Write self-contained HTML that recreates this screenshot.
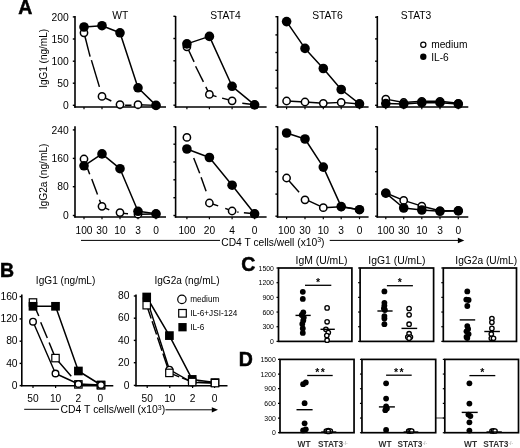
<!DOCTYPE html>
<html><head><meta charset="utf-8"><style>
html,body{margin:0;padding:0;background:#fff;}
svg{display:block;}
text{font-family:"Liberation Sans",sans-serif;}
svg{filter:grayscale(1);}
</style></head><body>
<svg width="520" height="448" viewBox="0 0 520 448" font-family="Liberation Sans, sans-serif">
<rect width="520" height="448" fill="#fff"/>
<text x="18.30" y="14.40" font-size="19.5" text-anchor="start" font-weight="bold" stroke="#000" stroke-width="0.5">A</text>
<line x1="75.00" y1="16.00" x2="75.00" y2="107.70" stroke="#000" stroke-width="1.6" />
<line x1="74.20" y1="107.10" x2="166.00" y2="107.10" stroke="#000" stroke-width="1.5" />
<line x1="72.80" y1="16.90" x2="75.00" y2="16.90" stroke="#000" stroke-width="1.4" />
<line x1="72.80" y1="39.00" x2="75.00" y2="39.00" stroke="#000" stroke-width="1.4" />
<line x1="72.80" y1="61.20" x2="75.00" y2="61.20" stroke="#000" stroke-width="1.4" />
<line x1="72.80" y1="83.20" x2="75.00" y2="83.20" stroke="#000" stroke-width="1.4" />
<line x1="72.80" y1="105.30" x2="75.00" y2="105.30" stroke="#000" stroke-width="1.4" />
<line x1="84.00" y1="107.10" x2="84.00" y2="109.30" stroke="#000" stroke-width="1.2" />
<line x1="102.00" y1="107.10" x2="102.00" y2="109.30" stroke="#000" stroke-width="1.2" />
<line x1="120.00" y1="107.10" x2="120.00" y2="109.30" stroke="#000" stroke-width="1.2" />
<line x1="138.00" y1="107.10" x2="138.00" y2="109.30" stroke="#000" stroke-width="1.2" />
<line x1="156.00" y1="107.10" x2="156.00" y2="109.30" stroke="#000" stroke-width="1.2" />
<line x1="175.60" y1="16.00" x2="175.60" y2="107.70" stroke="#000" stroke-width="1.6" />
<line x1="174.80" y1="107.10" x2="266.60" y2="107.10" stroke="#000" stroke-width="1.5" />
<line x1="173.40" y1="16.30" x2="175.60" y2="16.30" stroke="#000" stroke-width="1.4" />
<line x1="173.40" y1="38.50" x2="175.60" y2="38.50" stroke="#000" stroke-width="1.4" />
<line x1="173.40" y1="60.80" x2="175.60" y2="60.80" stroke="#000" stroke-width="1.4" />
<line x1="173.40" y1="83.00" x2="175.60" y2="83.00" stroke="#000" stroke-width="1.4" />
<line x1="173.40" y1="105.20" x2="175.60" y2="105.20" stroke="#000" stroke-width="1.4" />
<line x1="186.90" y1="107.10" x2="186.90" y2="109.30" stroke="#000" stroke-width="1.2" />
<line x1="209.40" y1="107.10" x2="209.40" y2="109.30" stroke="#000" stroke-width="1.2" />
<line x1="232.10" y1="107.10" x2="232.10" y2="109.30" stroke="#000" stroke-width="1.2" />
<line x1="254.60" y1="107.10" x2="254.60" y2="109.30" stroke="#000" stroke-width="1.2" />
<line x1="277.60" y1="16.00" x2="277.60" y2="107.70" stroke="#000" stroke-width="1.6" />
<line x1="276.80" y1="107.10" x2="368.60" y2="107.10" stroke="#000" stroke-width="1.5" />
<line x1="275.40" y1="16.70" x2="277.60" y2="16.70" stroke="#000" stroke-width="1.4" />
<line x1="275.40" y1="34.90" x2="277.60" y2="34.90" stroke="#000" stroke-width="1.4" />
<line x1="275.40" y1="52.50" x2="277.60" y2="52.50" stroke="#000" stroke-width="1.4" />
<line x1="275.40" y1="70.30" x2="277.60" y2="70.30" stroke="#000" stroke-width="1.4" />
<line x1="275.40" y1="88.10" x2="277.60" y2="88.10" stroke="#000" stroke-width="1.4" />
<line x1="275.40" y1="105.50" x2="277.60" y2="105.50" stroke="#000" stroke-width="1.4" />
<line x1="286.60" y1="107.10" x2="286.60" y2="109.30" stroke="#000" stroke-width="1.2" />
<line x1="305.00" y1="107.10" x2="305.00" y2="109.30" stroke="#000" stroke-width="1.2" />
<line x1="323.30" y1="107.10" x2="323.30" y2="109.30" stroke="#000" stroke-width="1.2" />
<line x1="341.20" y1="107.10" x2="341.20" y2="109.30" stroke="#000" stroke-width="1.2" />
<line x1="359.50" y1="107.10" x2="359.50" y2="109.30" stroke="#000" stroke-width="1.2" />
<line x1="377.30" y1="16.00" x2="377.30" y2="107.70" stroke="#000" stroke-width="1.6" />
<line x1="376.50" y1="107.10" x2="468.30" y2="107.10" stroke="#000" stroke-width="1.5" />
<line x1="375.10" y1="17.20" x2="377.30" y2="17.20" stroke="#000" stroke-width="1.4" />
<line x1="375.10" y1="38.90" x2="377.30" y2="38.90" stroke="#000" stroke-width="1.4" />
<line x1="375.10" y1="61.20" x2="377.30" y2="61.20" stroke="#000" stroke-width="1.4" />
<line x1="375.10" y1="83.40" x2="377.30" y2="83.40" stroke="#000" stroke-width="1.4" />
<line x1="375.10" y1="105.30" x2="377.30" y2="105.30" stroke="#000" stroke-width="1.4" />
<line x1="385.80" y1="107.10" x2="385.80" y2="109.30" stroke="#000" stroke-width="1.2" />
<line x1="403.70" y1="107.10" x2="403.70" y2="109.30" stroke="#000" stroke-width="1.2" />
<line x1="421.80" y1="107.10" x2="421.80" y2="109.30" stroke="#000" stroke-width="1.2" />
<line x1="440.00" y1="107.10" x2="440.00" y2="109.30" stroke="#000" stroke-width="1.2" />
<line x1="458.30" y1="107.10" x2="458.30" y2="109.30" stroke="#000" stroke-width="1.2" />
<line x1="75.00" y1="126.30" x2="75.00" y2="217.60" stroke="#000" stroke-width="1.6" />
<line x1="74.20" y1="217.00" x2="166.00" y2="217.00" stroke="#000" stroke-width="1.5" />
<line x1="72.80" y1="129.90" x2="75.00" y2="129.90" stroke="#000" stroke-width="1.4" />
<line x1="72.80" y1="158.40" x2="75.00" y2="158.40" stroke="#000" stroke-width="1.4" />
<line x1="72.80" y1="186.70" x2="75.00" y2="186.70" stroke="#000" stroke-width="1.4" />
<line x1="72.80" y1="215.50" x2="75.00" y2="215.50" stroke="#000" stroke-width="1.4" />
<line x1="84.00" y1="217.00" x2="84.00" y2="219.20" stroke="#000" stroke-width="1.2" />
<line x1="102.00" y1="217.00" x2="102.00" y2="219.20" stroke="#000" stroke-width="1.2" />
<line x1="120.00" y1="217.00" x2="120.00" y2="219.20" stroke="#000" stroke-width="1.2" />
<line x1="138.00" y1="217.00" x2="138.00" y2="219.20" stroke="#000" stroke-width="1.2" />
<line x1="156.00" y1="217.00" x2="156.00" y2="219.20" stroke="#000" stroke-width="1.2" />
<line x1="175.60" y1="126.30" x2="175.60" y2="217.60" stroke="#000" stroke-width="1.6" />
<line x1="174.80" y1="217.00" x2="266.60" y2="217.00" stroke="#000" stroke-width="1.5" />
<line x1="173.40" y1="126.70" x2="175.60" y2="126.70" stroke="#000" stroke-width="1.4" />
<line x1="173.40" y1="144.20" x2="175.60" y2="144.20" stroke="#000" stroke-width="1.4" />
<line x1="173.40" y1="162.00" x2="175.60" y2="162.00" stroke="#000" stroke-width="1.4" />
<line x1="173.40" y1="179.80" x2="175.60" y2="179.80" stroke="#000" stroke-width="1.4" />
<line x1="173.40" y1="197.70" x2="175.60" y2="197.70" stroke="#000" stroke-width="1.4" />
<line x1="173.40" y1="215.50" x2="175.60" y2="215.50" stroke="#000" stroke-width="1.4" />
<line x1="186.90" y1="217.00" x2="186.90" y2="219.20" stroke="#000" stroke-width="1.2" />
<line x1="209.40" y1="217.00" x2="209.40" y2="219.20" stroke="#000" stroke-width="1.2" />
<line x1="232.10" y1="217.00" x2="232.10" y2="219.20" stroke="#000" stroke-width="1.2" />
<line x1="254.60" y1="217.00" x2="254.60" y2="219.20" stroke="#000" stroke-width="1.2" />
<line x1="277.60" y1="126.30" x2="277.60" y2="217.60" stroke="#000" stroke-width="1.6" />
<line x1="276.80" y1="217.00" x2="368.60" y2="217.00" stroke="#000" stroke-width="1.5" />
<line x1="275.40" y1="126.70" x2="277.60" y2="126.70" stroke="#000" stroke-width="1.4" />
<line x1="275.40" y1="149.10" x2="277.60" y2="149.10" stroke="#000" stroke-width="1.4" />
<line x1="275.40" y1="171.70" x2="277.60" y2="171.70" stroke="#000" stroke-width="1.4" />
<line x1="275.40" y1="194.10" x2="277.60" y2="194.10" stroke="#000" stroke-width="1.4" />
<line x1="275.40" y1="216.20" x2="277.60" y2="216.20" stroke="#000" stroke-width="1.4" />
<line x1="286.60" y1="217.00" x2="286.60" y2="219.20" stroke="#000" stroke-width="1.2" />
<line x1="305.00" y1="217.00" x2="305.00" y2="219.20" stroke="#000" stroke-width="1.2" />
<line x1="323.30" y1="217.00" x2="323.30" y2="219.20" stroke="#000" stroke-width="1.2" />
<line x1="341.20" y1="217.00" x2="341.20" y2="219.20" stroke="#000" stroke-width="1.2" />
<line x1="359.50" y1="217.00" x2="359.50" y2="219.20" stroke="#000" stroke-width="1.2" />
<line x1="377.30" y1="126.30" x2="377.30" y2="217.60" stroke="#000" stroke-width="1.6" />
<line x1="376.50" y1="217.00" x2="468.30" y2="217.00" stroke="#000" stroke-width="1.5" />
<line x1="375.10" y1="126.70" x2="377.30" y2="126.70" stroke="#000" stroke-width="1.4" />
<line x1="375.10" y1="149.10" x2="377.30" y2="149.10" stroke="#000" stroke-width="1.4" />
<line x1="375.10" y1="171.70" x2="377.30" y2="171.70" stroke="#000" stroke-width="1.4" />
<line x1="375.10" y1="194.10" x2="377.30" y2="194.10" stroke="#000" stroke-width="1.4" />
<line x1="375.10" y1="216.20" x2="377.30" y2="216.20" stroke="#000" stroke-width="1.4" />
<line x1="385.80" y1="217.00" x2="385.80" y2="219.20" stroke="#000" stroke-width="1.2" />
<line x1="403.70" y1="217.00" x2="403.70" y2="219.20" stroke="#000" stroke-width="1.2" />
<line x1="421.80" y1="217.00" x2="421.80" y2="219.20" stroke="#000" stroke-width="1.2" />
<line x1="440.00" y1="217.00" x2="440.00" y2="219.20" stroke="#000" stroke-width="1.2" />
<line x1="458.30" y1="217.00" x2="458.30" y2="219.20" stroke="#000" stroke-width="1.2" />
<text x="68.80" y="20.60" font-size="10.3" text-anchor="end" font-weight="normal" >200</text>
<text x="68.80" y="42.70" font-size="10.3" text-anchor="end" font-weight="normal" >150</text>
<text x="68.80" y="64.90" font-size="10.3" text-anchor="end" font-weight="normal" >100</text>
<text x="68.80" y="86.90" font-size="10.3" text-anchor="end" font-weight="normal" >50</text>
<text x="68.80" y="109.00" font-size="10.3" text-anchor="end" font-weight="normal" >0</text>
<text x="68.80" y="133.60" font-size="10.3" text-anchor="end" font-weight="normal" >240</text>
<text x="68.80" y="162.10" font-size="10.3" text-anchor="end" font-weight="normal" >160</text>
<text x="68.80" y="190.40" font-size="10.3" text-anchor="end" font-weight="normal" >80</text>
<text x="68.80" y="219.20" font-size="10.3" text-anchor="end" font-weight="normal" >0</text>
<text transform="translate(46.8,58.4) rotate(-90)" font-size="10.0" text-anchor="middle">IgG1 (ng/mL)</text>
<text transform="translate(46.6,176.4) rotate(-90)" font-size="10.2" text-anchor="middle">IgG2a (ng/mL)</text>
<text x="120.30" y="19.30" font-size="10.3" text-anchor="middle" font-weight="normal" >WT</text>
<text x="225.40" y="19.30" font-size="10.3" text-anchor="middle" font-weight="normal" >STAT4</text>
<text x="327.40" y="19.30" font-size="10.3" text-anchor="middle" font-weight="normal" >STAT6</text>
<text x="416.10" y="19.30" font-size="10.3" text-anchor="middle" font-weight="normal" >STAT3</text>
<text x="84.00" y="234.00" font-size="10.2" text-anchor="middle" font-weight="normal" >100</text>
<text x="102.00" y="234.00" font-size="10.2" text-anchor="middle" font-weight="normal" >30</text>
<text x="120.00" y="234.00" font-size="10.2" text-anchor="middle" font-weight="normal" >10</text>
<text x="138.00" y="234.00" font-size="10.2" text-anchor="middle" font-weight="normal" >3</text>
<text x="156.00" y="234.00" font-size="10.2" text-anchor="middle" font-weight="normal" >0</text>
<text x="186.90" y="234.00" font-size="10.2" text-anchor="middle" font-weight="normal" >100</text>
<text x="209.40" y="234.00" font-size="10.2" text-anchor="middle" font-weight="normal" >20</text>
<text x="232.10" y="234.00" font-size="10.2" text-anchor="middle" font-weight="normal" >4</text>
<text x="254.60" y="234.00" font-size="10.2" text-anchor="middle" font-weight="normal" >0</text>
<text x="286.60" y="234.00" font-size="10.2" text-anchor="middle" font-weight="normal" >100</text>
<text x="305.00" y="234.00" font-size="10.2" text-anchor="middle" font-weight="normal" >30</text>
<text x="323.30" y="234.00" font-size="10.2" text-anchor="middle" font-weight="normal" >10</text>
<text x="341.20" y="234.00" font-size="10.2" text-anchor="middle" font-weight="normal" >3</text>
<text x="359.50" y="234.00" font-size="10.2" text-anchor="middle" font-weight="normal" >0</text>
<text x="385.80" y="234.00" font-size="10.2" text-anchor="middle" font-weight="normal" >100</text>
<text x="403.70" y="234.00" font-size="10.2" text-anchor="middle" font-weight="normal" >30</text>
<text x="421.80" y="234.00" font-size="10.2" text-anchor="middle" font-weight="normal" >10</text>
<text x="440.00" y="234.00" font-size="10.2" text-anchor="middle" font-weight="normal" >3</text>
<text x="458.30" y="234.00" font-size="10.2" text-anchor="middle" font-weight="normal" >0</text>
<line x1="81.00" y1="240.40" x2="220.00" y2="240.40" stroke="#000" stroke-width="1.0" />
<line x1="329.70" y1="240.40" x2="459.00" y2="240.40" stroke="#000" stroke-width="1.0" />
<polygon points="457.9,237.7 464.3,240.4 457.9,243.2" fill="#000"/>
<text x="221.3" y="245.6" font-size="10.25">CD4 T cells/well (x10<tspan dy="-3.5" font-size="7">3</tspan><tspan dy="3.5">)</tspan></text>
<polyline points="84.00,32.80 90.10,56.60" fill="none" stroke="#000" stroke-width="1.45" stroke-linejoin="round"/>
<polyline points="91.40,60.10 99.40,86.90" fill="none" stroke="#000" stroke-width="1.45" stroke-linejoin="round"/>
<polyline points="102.00,96.40 111.30,101.00" fill="none" stroke="#000" stroke-width="1.45" stroke-linejoin="round"/>
<polyline points="125.10,105.20 131.50,105.30" fill="none" stroke="#000" stroke-width="1.45" stroke-linejoin="round"/>
<polyline points="138.00,104.70 156.00,105.40" fill="none" stroke="#000" stroke-width="1.45" stroke-linejoin="round"/>
<polyline points="84.00,27.00 102.00,25.70 120.00,32.80 138.00,87.80 156.00,105.40" fill="none" stroke="#000" stroke-width="1.5" stroke-linejoin="round"/>
<circle cx="84.00" cy="32.80" r="3.65" fill="#fff" stroke="#000" stroke-width="1.5"/>
<circle cx="102.00" cy="96.40" r="3.65" fill="#fff" stroke="#000" stroke-width="1.5"/>
<circle cx="120.00" cy="104.60" r="3.65" fill="#fff" stroke="#000" stroke-width="1.5"/>
<circle cx="138.00" cy="104.70" r="3.65" fill="#fff" stroke="#000" stroke-width="1.5"/>
<circle cx="156.00" cy="105.40" r="3.65" fill="#fff" stroke="#000" stroke-width="1.5"/>
<circle cx="84.00" cy="27.00" r="4.8" fill="#000"/>
<circle cx="102.00" cy="25.70" r="4.8" fill="#000"/>
<circle cx="120.00" cy="32.80" r="4.8" fill="#000"/>
<circle cx="138.00" cy="87.80" r="4.8" fill="#000"/>
<circle cx="156.00" cy="105.40" r="4.8" fill="#000"/>
<polyline points="187.00,46.80 194.10,61.90" fill="none" stroke="#000" stroke-width="1.45" stroke-linejoin="round"/>
<polyline points="195.60,66.25 203.40,81.90" fill="none" stroke="#000" stroke-width="1.45" stroke-linejoin="round"/>
<polyline points="205.80,86.90 209.50,94.40 216.50,96.60" fill="none" stroke="#000" stroke-width="1.45" stroke-linejoin="round"/>
<polyline points="222.10,98.10 232.30,100.80" fill="none" stroke="#000" stroke-width="1.45" stroke-linejoin="round"/>
<polyline points="242.30,103.20 254.80,104.80" fill="none" stroke="#000" stroke-width="1.45" stroke-linejoin="round"/>
<polyline points="186.90,43.90 209.40,36.40 232.10,86.30 254.60,104.80" fill="none" stroke="#000" stroke-width="1.5" stroke-linejoin="round"/>
<circle cx="186.90" cy="46.80" r="3.65" fill="#fff" stroke="#000" stroke-width="1.5"/>
<circle cx="209.40" cy="94.40" r="3.65" fill="#fff" stroke="#000" stroke-width="1.5"/>
<circle cx="232.10" cy="100.80" r="3.65" fill="#fff" stroke="#000" stroke-width="1.5"/>
<circle cx="254.60" cy="104.80" r="3.65" fill="#fff" stroke="#000" stroke-width="1.5"/>
<circle cx="186.90" cy="43.90" r="4.8" fill="#000"/>
<circle cx="209.40" cy="36.40" r="4.8" fill="#000"/>
<circle cx="232.10" cy="86.30" r="4.8" fill="#000"/>
<circle cx="254.60" cy="104.80" r="4.8" fill="#000"/>
<polyline points="286.60,101.00 305.00,102.00 323.30,103.30 341.20,102.40 359.50,104.00" fill="none" stroke="#000" stroke-width="1.4" stroke-linejoin="round"/>
<polyline points="286.60,21.60 305.00,48.40 323.30,68.50 341.20,89.50 359.50,103.80" fill="none" stroke="#000" stroke-width="1.5" stroke-linejoin="round"/>
<circle cx="286.60" cy="101.00" r="3.65" fill="#fff" stroke="#000" stroke-width="1.5"/>
<circle cx="305.00" cy="102.00" r="3.65" fill="#fff" stroke="#000" stroke-width="1.5"/>
<circle cx="323.30" cy="103.30" r="3.65" fill="#fff" stroke="#000" stroke-width="1.5"/>
<circle cx="341.20" cy="102.40" r="3.65" fill="#fff" stroke="#000" stroke-width="1.5"/>
<circle cx="359.50" cy="104.00" r="3.65" fill="#fff" stroke="#000" stroke-width="1.5"/>
<circle cx="286.60" cy="21.60" r="4.8" fill="#000"/>
<circle cx="305.00" cy="48.40" r="4.8" fill="#000"/>
<circle cx="323.30" cy="68.50" r="4.8" fill="#000"/>
<circle cx="341.20" cy="89.50" r="4.8" fill="#000"/>
<circle cx="359.50" cy="103.80" r="4.8" fill="#000"/>
<polyline points="385.80,99.10 403.70,102.50 421.80,101.30 440.00,101.30 458.30,103.30" fill="none" stroke="#000" stroke-width="1.4" stroke-linejoin="round"/>
<polyline points="385.80,103.60 403.70,104.10 421.80,102.70 440.00,102.70 458.30,104.10" fill="none" stroke="#000" stroke-width="1.5" stroke-linejoin="round"/>
<circle cx="385.80" cy="99.10" r="3.65" fill="#fff" stroke="#000" stroke-width="1.5"/>
<circle cx="403.70" cy="102.50" r="3.65" fill="#fff" stroke="#000" stroke-width="1.5"/>
<circle cx="421.80" cy="101.30" r="3.65" fill="#fff" stroke="#000" stroke-width="1.5"/>
<circle cx="440.00" cy="101.30" r="3.65" fill="#fff" stroke="#000" stroke-width="1.5"/>
<circle cx="458.30" cy="103.30" r="3.65" fill="#fff" stroke="#000" stroke-width="1.5"/>
<circle cx="385.80" cy="103.60" r="4.8" fill="#000"/>
<circle cx="403.70" cy="104.10" r="4.8" fill="#000"/>
<circle cx="421.80" cy="102.70" r="4.8" fill="#000"/>
<circle cx="440.00" cy="102.70" r="4.8" fill="#000"/>
<circle cx="458.30" cy="104.10" r="4.8" fill="#000"/>
<polyline points="84.00,159.00 89.70,174.20" fill="none" stroke="#000" stroke-width="1.45" stroke-linejoin="round"/>
<polyline points="91.75,178.90 97.50,194.50" fill="none" stroke="#000" stroke-width="1.45" stroke-linejoin="round"/>
<polyline points="99.40,199.70 102.00,206.30 109.25,209.90" fill="none" stroke="#000" stroke-width="1.45" stroke-linejoin="round"/>
<polyline points="123.30,213.40 128.00,213.70" fill="none" stroke="#000" stroke-width="1.45" stroke-linejoin="round"/>
<polyline points="138.00,214.20 156.00,214.00" fill="none" stroke="#000" stroke-width="1.45" stroke-linejoin="round"/>
<polyline points="84.00,165.80 102.00,153.90 120.00,168.70 138.00,211.30 156.00,213.80" fill="none" stroke="#000" stroke-width="1.5" stroke-linejoin="round"/>
<circle cx="84.00" cy="159.00" r="3.65" fill="#fff" stroke="#000" stroke-width="1.5"/>
<circle cx="102.00" cy="206.30" r="3.65" fill="#fff" stroke="#000" stroke-width="1.5"/>
<circle cx="120.00" cy="212.60" r="3.65" fill="#fff" stroke="#000" stroke-width="1.5"/>
<circle cx="138.00" cy="214.20" r="3.65" fill="#fff" stroke="#000" stroke-width="1.5"/>
<circle cx="156.00" cy="214.00" r="3.65" fill="#fff" stroke="#000" stroke-width="1.5"/>
<circle cx="84.00" cy="165.80" r="4.8" fill="#000"/>
<circle cx="102.00" cy="153.90" r="4.8" fill="#000"/>
<circle cx="120.00" cy="168.70" r="4.8" fill="#000"/>
<circle cx="138.00" cy="211.30" r="4.8" fill="#000"/>
<circle cx="156.00" cy="213.80" r="4.8" fill="#000"/>
<polyline points="193.70,158.10 199.70,173.20" fill="none" stroke="#000" stroke-width="1.45" stroke-linejoin="round"/>
<polyline points="201.10,177.20 206.10,191.30" fill="none" stroke="#000" stroke-width="1.45" stroke-linejoin="round"/>
<polyline points="209.50,203.00 218.20,205.90" fill="none" stroke="#000" stroke-width="1.45" stroke-linejoin="round"/>
<polyline points="225.20,208.40 232.30,211.00" fill="none" stroke="#000" stroke-width="1.45" stroke-linejoin="round"/>
<polyline points="237.30,212.00 238.50,212.20" fill="none" stroke="#000" stroke-width="1.45" stroke-linejoin="round"/>
<polyline points="243.90,212.80 254.80,213.80" fill="none" stroke="#000" stroke-width="1.45" stroke-linejoin="round"/>
<polyline points="186.90,149.00 209.40,157.50 232.10,185.20 254.60,213.80" fill="none" stroke="#000" stroke-width="1.5" stroke-linejoin="round"/>
<circle cx="186.90" cy="137.40" r="3.65" fill="#fff" stroke="#000" stroke-width="1.5"/>
<circle cx="209.40" cy="203.00" r="3.65" fill="#fff" stroke="#000" stroke-width="1.5"/>
<circle cx="232.10" cy="211.00" r="3.65" fill="#fff" stroke="#000" stroke-width="1.5"/>
<circle cx="254.60" cy="213.80" r="3.65" fill="#fff" stroke="#000" stroke-width="1.5"/>
<circle cx="186.90" cy="149.00" r="4.8" fill="#000"/>
<circle cx="209.40" cy="157.50" r="4.8" fill="#000"/>
<circle cx="232.10" cy="185.20" r="4.8" fill="#000"/>
<circle cx="254.60" cy="213.80" r="4.8" fill="#000"/>
<polyline points="286.50,178.00 299.10,192.30" fill="none" stroke="#000" stroke-width="1.45" stroke-linejoin="round"/>
<polyline points="305.00,199.20 323.30,207.70 341.20,206.80 359.50,209.70" fill="none" stroke="#000" stroke-width="1.45" stroke-linejoin="round"/>
<polyline points="286.60,133.00 305.00,139.00 323.30,167.10 341.20,206.60 359.50,209.70" fill="none" stroke="#000" stroke-width="1.5" stroke-linejoin="round"/>
<circle cx="286.60" cy="178.00" r="3.65" fill="#fff" stroke="#000" stroke-width="1.5"/>
<circle cx="305.00" cy="199.80" r="3.65" fill="#fff" stroke="#000" stroke-width="1.5"/>
<circle cx="323.30" cy="207.70" r="3.65" fill="#fff" stroke="#000" stroke-width="1.5"/>
<circle cx="341.20" cy="206.80" r="3.65" fill="#fff" stroke="#000" stroke-width="1.5"/>
<circle cx="359.50" cy="209.70" r="3.65" fill="#fff" stroke="#000" stroke-width="1.5"/>
<circle cx="286.60" cy="133.00" r="4.8" fill="#000"/>
<circle cx="305.00" cy="139.00" r="4.8" fill="#000"/>
<circle cx="323.30" cy="167.10" r="4.8" fill="#000"/>
<circle cx="341.20" cy="206.60" r="4.8" fill="#000"/>
<circle cx="359.50" cy="209.70" r="4.8" fill="#000"/>
<polyline points="385.80,193.00 403.70,200.40 421.80,206.20 440.00,210.80 458.30,210.60" fill="none" stroke="#000" stroke-width="1.4" stroke-linejoin="round"/>
<polyline points="385.80,193.20 403.70,208.00 421.80,210.00 440.00,211.30 458.30,210.90" fill="none" stroke="#000" stroke-width="1.5" stroke-linejoin="round"/>
<circle cx="385.80" cy="193.00" r="3.65" fill="#fff" stroke="#000" stroke-width="1.5"/>
<circle cx="403.70" cy="200.40" r="3.65" fill="#fff" stroke="#000" stroke-width="1.5"/>
<circle cx="421.80" cy="206.20" r="3.65" fill="#fff" stroke="#000" stroke-width="1.5"/>
<circle cx="440.00" cy="210.80" r="3.65" fill="#fff" stroke="#000" stroke-width="1.5"/>
<circle cx="458.30" cy="210.60" r="3.65" fill="#fff" stroke="#000" stroke-width="1.5"/>
<circle cx="385.80" cy="193.20" r="4.8" fill="#000"/>
<circle cx="403.70" cy="208.00" r="4.8" fill="#000"/>
<circle cx="421.80" cy="210.00" r="4.8" fill="#000"/>
<circle cx="440.00" cy="211.30" r="4.8" fill="#000"/>
<circle cx="458.30" cy="210.90" r="4.8" fill="#000"/>
<circle cx="423.30" cy="44.70" r="2.6" fill="#fff" stroke="#000" stroke-width="1.2"/>
<text x="431.20" y="48.30" font-size="10.2" text-anchor="start" font-weight="normal" >medium</text>
<circle cx="423.30" cy="56.80" r="3.2" fill="#000"/>
<text x="431.20" y="61.00" font-size="10.2" text-anchor="start" font-weight="normal" >IL-6</text>
<text x="0.10" y="277.40" font-size="19.5" text-anchor="start" font-weight="bold" stroke="#000" stroke-width="0.5">B</text>
<line x1="21.80" y1="294.50" x2="21.80" y2="386.30" stroke="#000" stroke-width="1.6" />
<line x1="21.00" y1="385.70" x2="113.30" y2="385.70" stroke="#000" stroke-width="1.5" />
<line x1="33.00" y1="385.70" x2="33.00" y2="387.90" stroke="#000" stroke-width="1.2" />
<line x1="55.60" y1="385.70" x2="55.60" y2="387.90" stroke="#000" stroke-width="1.2" />
<line x1="78.40" y1="385.70" x2="78.40" y2="387.90" stroke="#000" stroke-width="1.2" />
<line x1="100.40" y1="385.70" x2="100.40" y2="387.90" stroke="#000" stroke-width="1.2" />
<line x1="136.00" y1="294.50" x2="136.00" y2="386.30" stroke="#000" stroke-width="1.6" />
<line x1="135.20" y1="385.70" x2="227.50" y2="385.70" stroke="#000" stroke-width="1.5" />
<line x1="147.20" y1="385.70" x2="147.20" y2="387.90" stroke="#000" stroke-width="1.2" />
<line x1="169.80" y1="385.70" x2="169.80" y2="387.90" stroke="#000" stroke-width="1.2" />
<line x1="192.60" y1="385.70" x2="192.60" y2="387.90" stroke="#000" stroke-width="1.2" />
<line x1="214.60" y1="385.70" x2="214.60" y2="387.90" stroke="#000" stroke-width="1.2" />
<line x1="19.60" y1="296.60" x2="21.80" y2="296.60" stroke="#000" stroke-width="1.4" />
<text x="17.60" y="299.70" font-size="10.3" text-anchor="end" font-weight="normal" >160</text>
<line x1="19.60" y1="318.90" x2="21.80" y2="318.90" stroke="#000" stroke-width="1.4" />
<text x="17.60" y="322.00" font-size="10.3" text-anchor="end" font-weight="normal" >120</text>
<line x1="19.60" y1="341.20" x2="21.80" y2="341.20" stroke="#000" stroke-width="1.4" />
<text x="17.60" y="344.30" font-size="10.3" text-anchor="end" font-weight="normal" >80</text>
<line x1="19.60" y1="363.40" x2="21.80" y2="363.40" stroke="#000" stroke-width="1.4" />
<text x="17.60" y="366.50" font-size="10.3" text-anchor="end" font-weight="normal" >40</text>
<line x1="19.60" y1="385.60" x2="21.80" y2="385.60" stroke="#000" stroke-width="1.4" />
<text x="17.60" y="388.70" font-size="10.3" text-anchor="end" font-weight="normal" >0</text>
<line x1="133.80" y1="296.00" x2="136.00" y2="296.00" stroke="#000" stroke-width="1.4" />
<text x="129.40" y="299.10" font-size="10.3" text-anchor="end" font-weight="normal" >80</text>
<line x1="133.80" y1="318.20" x2="136.00" y2="318.20" stroke="#000" stroke-width="1.4" />
<text x="129.40" y="321.30" font-size="10.3" text-anchor="end" font-weight="normal" >60</text>
<line x1="133.80" y1="340.40" x2="136.00" y2="340.40" stroke="#000" stroke-width="1.4" />
<text x="129.40" y="343.50" font-size="10.3" text-anchor="end" font-weight="normal" >40</text>
<line x1="133.80" y1="362.70" x2="136.00" y2="362.70" stroke="#000" stroke-width="1.4" />
<text x="129.40" y="365.80" font-size="10.3" text-anchor="end" font-weight="normal" >20</text>
<line x1="133.80" y1="385.40" x2="136.00" y2="385.40" stroke="#000" stroke-width="1.4" />
<text x="129.40" y="388.50" font-size="10.3" text-anchor="end" font-weight="normal" >0</text>
<text x="65.60" y="284.00" font-size="10.1" text-anchor="middle" font-weight="normal" >IgG1 (ng/mL)</text>
<text x="187.00" y="284.00" font-size="10.1" text-anchor="middle" font-weight="normal" >IgG2a (ng/mL)</text>
<text x="33.00" y="402.20" font-size="10.2" text-anchor="middle" font-weight="normal" >50</text>
<text x="55.60" y="402.20" font-size="10.2" text-anchor="middle" font-weight="normal" >10</text>
<text x="78.40" y="402.20" font-size="10.2" text-anchor="middle" font-weight="normal" >2</text>
<text x="100.40" y="402.20" font-size="10.2" text-anchor="middle" font-weight="normal" >0</text>
<text x="147.20" y="402.20" font-size="10.2" text-anchor="middle" font-weight="normal" >50</text>
<text x="169.80" y="402.20" font-size="10.2" text-anchor="middle" font-weight="normal" >10</text>
<text x="192.60" y="402.20" font-size="10.2" text-anchor="middle" font-weight="normal" >2</text>
<text x="214.60" y="402.20" font-size="10.2" text-anchor="middle" font-weight="normal" >0</text>
<line x1="24.20" y1="409.30" x2="59.00" y2="409.30" stroke="#000" stroke-width="1.0" />
<line x1="165.50" y1="409.80" x2="213.00" y2="409.80" stroke="#000" stroke-width="1.0" />
<polygon points="211.8,407.2 218.0,409.8 211.8,412.4" fill="#000"/>
<text x="60.6" y="413.3" font-size="10.4">CD4 T cells/well (x10<tspan dy="-3.5" font-size="7">3</tspan><tspan dy="3.5">)</tspan></text>
<polyline points="33.00,321.70 55.50,373.50 78.40,384.00 101.00,385.00" fill="none" stroke="#000" stroke-width="1.4" stroke-linejoin="round"/>
<polyline points="33.00,302.50 38.75,316.00" fill="none" stroke="#000" stroke-width="1.45" stroke-linejoin="round"/>
<polyline points="40.70,322.20 47.30,338.00" fill="none" stroke="#000" stroke-width="1.45" stroke-linejoin="round"/>
<polyline points="49.10,342.50 55.50,358.10 71.25,376.25" fill="none" stroke="#000" stroke-width="1.45" stroke-linejoin="round"/>
<polyline points="78.40,384.40 101.00,385.20" fill="none" stroke="#000" stroke-width="1.45" stroke-linejoin="round"/>
<polyline points="33.00,306.30 55.50,306.30 78.40,371.00 101.00,385.00" fill="none" stroke="#000" stroke-width="1.5" stroke-linejoin="round"/>
<rect x="96.65" y="380.65" width="8.7" height="8.7" fill="#000"/>
<rect x="29.30" y="298.80" width="7.4" height="7.4" fill="#fff" stroke="#000" stroke-width="1.2"/>
<rect x="51.80" y="354.40" width="7.4" height="7.4" fill="#fff" stroke="#000" stroke-width="1.2"/>
<rect x="74.70" y="380.70" width="7.4" height="7.4" fill="#fff" stroke="#000" stroke-width="1.2"/>
<rect x="97.30" y="381.50" width="7.4" height="7.4" fill="#fff" stroke="#000" stroke-width="1.2"/>
<circle cx="33.00" cy="321.70" r="3.3" fill="#fff" stroke="#000" stroke-width="1.4"/>
<circle cx="55.50" cy="373.50" r="3.3" fill="#fff" stroke="#000" stroke-width="1.4"/>
<circle cx="78.40" cy="384.00" r="3.3" fill="#fff" stroke="#000" stroke-width="1.4"/>
<circle cx="101.00" cy="385.00" r="3.3" fill="#fff" stroke="#000" stroke-width="1.4"/>
<rect x="28.65" y="301.95" width="8.7" height="8.7" fill="#000"/>
<rect x="51.15" y="301.95" width="8.7" height="8.7" fill="#000"/>
<rect x="74.05" y="366.65" width="8.7" height="8.7" fill="#000"/>
<polyline points="146.70,298.50 169.40,369.70 192.20,382.50 215.00,382.80" fill="none" stroke="#000" stroke-width="1.4" stroke-linejoin="round"/>
<polyline points="146.70,305.20 169.40,372.90 192.20,382.00 215.00,383.10" fill="none" stroke="#000" stroke-width="1.45" stroke-linejoin="round" stroke-dasharray="14 3" stroke-dashoffset="0"/>
<polyline points="146.70,297.00 169.40,335.60 192.20,379.40 215.00,382.60" fill="none" stroke="#000" stroke-width="1.5" stroke-linejoin="round"/>
<circle cx="146.70" cy="298.50" r="3.3" fill="#fff" stroke="#000" stroke-width="1.4"/>
<circle cx="169.40" cy="369.70" r="3.3" fill="#fff" stroke="#000" stroke-width="1.4"/>
<circle cx="192.20" cy="382.50" r="3.3" fill="#fff" stroke="#000" stroke-width="1.4"/>
<circle cx="215.00" cy="382.80" r="3.3" fill="#fff" stroke="#000" stroke-width="1.4"/>
<rect x="142.35" y="292.65" width="8.7" height="8.7" fill="#000"/>
<rect x="165.05" y="331.25" width="8.7" height="8.7" fill="#000"/>
<rect x="187.85" y="375.05" width="8.7" height="8.7" fill="#000"/>
<rect x="210.65" y="378.25" width="8.7" height="8.7" fill="#000"/>
<rect x="143.00" y="301.50" width="7.4" height="7.4" fill="#fff" stroke="#000" stroke-width="1.2"/>
<rect x="165.70" y="369.20" width="7.4" height="7.4" fill="#fff" stroke="#000" stroke-width="1.2"/>
<rect x="188.50" y="378.30" width="7.4" height="7.4" fill="#fff" stroke="#000" stroke-width="1.2"/>
<rect x="211.30" y="379.40" width="7.4" height="7.4" fill="#fff" stroke="#000" stroke-width="1.2"/>
<circle cx="181.90" cy="299.40" r="4.2" fill="#fff" stroke="#000" stroke-width="1.2"/>
<text x="190.20" y="302.20" font-size="8.2" text-anchor="start" font-weight="normal" >medium</text>
<rect x="178.70" y="309.50" width="7.6" height="7.6" fill="#fff" stroke="#000" stroke-width="1.2"/>
<text x="190.20" y="316.30" font-size="8.2" text-anchor="start" font-weight="normal" >IL-6+JSI-124</text>
<rect x="178.35" y="323.05" width="8.3" height="8.3" fill="#000"/>
<text x="190.20" y="330.20" font-size="8.2" text-anchor="start" font-weight="normal" >IL-6</text>
<text x="241.20" y="270.90" font-size="19.5" text-anchor="start" font-weight="bold" stroke="#000" stroke-width="0.5">C</text>
<text x="238.80" y="366.10" font-size="19.5" text-anchor="start" font-weight="bold" stroke="#000" stroke-width="0.5">D</text>
<rect x="278.50" y="268.00" width="73.40" height="73.40" fill="none" stroke="#000" stroke-width="1.7"/>
<line x1="276.50" y1="268.00" x2="278.50" y2="268.00" stroke="#000" stroke-width="1.2" />
<line x1="276.50" y1="282.68" x2="278.50" y2="282.68" stroke="#000" stroke-width="1.2" />
<line x1="276.50" y1="297.36" x2="278.50" y2="297.36" stroke="#000" stroke-width="1.2" />
<line x1="276.50" y1="312.04" x2="278.50" y2="312.04" stroke="#000" stroke-width="1.2" />
<line x1="276.50" y1="326.72" x2="278.50" y2="326.72" stroke="#000" stroke-width="1.2" />
<line x1="276.50" y1="341.40" x2="278.50" y2="341.40" stroke="#000" stroke-width="1.2" />
<rect x="360.10" y="268.00" width="73.50" height="73.40" fill="none" stroke="#000" stroke-width="1.7"/>
<line x1="358.10" y1="268.00" x2="360.10" y2="268.00" stroke="#000" stroke-width="1.2" />
<line x1="358.10" y1="282.68" x2="360.10" y2="282.68" stroke="#000" stroke-width="1.2" />
<line x1="358.10" y1="297.36" x2="360.10" y2="297.36" stroke="#000" stroke-width="1.2" />
<line x1="358.10" y1="312.04" x2="360.10" y2="312.04" stroke="#000" stroke-width="1.2" />
<line x1="358.10" y1="326.72" x2="360.10" y2="326.72" stroke="#000" stroke-width="1.2" />
<line x1="358.10" y1="341.40" x2="360.10" y2="341.40" stroke="#000" stroke-width="1.2" />
<rect x="443.30" y="268.00" width="73.20" height="73.40" fill="none" stroke="#000" stroke-width="1.7"/>
<line x1="441.30" y1="268.00" x2="443.30" y2="268.00" stroke="#000" stroke-width="1.2" />
<line x1="441.30" y1="282.68" x2="443.30" y2="282.68" stroke="#000" stroke-width="1.2" />
<line x1="441.30" y1="297.36" x2="443.30" y2="297.36" stroke="#000" stroke-width="1.2" />
<line x1="441.30" y1="312.04" x2="443.30" y2="312.04" stroke="#000" stroke-width="1.2" />
<line x1="441.30" y1="326.72" x2="443.30" y2="326.72" stroke="#000" stroke-width="1.2" />
<line x1="441.30" y1="341.40" x2="443.30" y2="341.40" stroke="#000" stroke-width="1.2" />
<rect x="280.00" y="359.40" width="74.05" height="73.30" fill="none" stroke="#000" stroke-width="1.7"/>
<line x1="278.00" y1="359.40" x2="280.00" y2="359.40" stroke="#000" stroke-width="1.2" />
<line x1="278.00" y1="374.06" x2="280.00" y2="374.06" stroke="#000" stroke-width="1.2" />
<line x1="278.00" y1="388.72" x2="280.00" y2="388.72" stroke="#000" stroke-width="1.2" />
<line x1="278.00" y1="403.38" x2="280.00" y2="403.38" stroke="#000" stroke-width="1.2" />
<line x1="278.00" y1="418.04" x2="280.00" y2="418.04" stroke="#000" stroke-width="1.2" />
<line x1="278.00" y1="432.70" x2="280.00" y2="432.70" stroke="#000" stroke-width="1.2" />
<rect x="361.95" y="359.40" width="73.75" height="73.30" fill="none" stroke="#000" stroke-width="1.7"/>
<line x1="359.95" y1="359.40" x2="361.95" y2="359.40" stroke="#000" stroke-width="1.2" />
<line x1="359.95" y1="374.06" x2="361.95" y2="374.06" stroke="#000" stroke-width="1.2" />
<line x1="359.95" y1="388.72" x2="361.95" y2="388.72" stroke="#000" stroke-width="1.2" />
<line x1="359.95" y1="403.38" x2="361.95" y2="403.38" stroke="#000" stroke-width="1.2" />
<line x1="359.95" y1="418.04" x2="361.95" y2="418.04" stroke="#000" stroke-width="1.2" />
<line x1="359.95" y1="432.70" x2="361.95" y2="432.70" stroke="#000" stroke-width="1.2" />
<rect x="444.80" y="359.40" width="73.70" height="73.30" fill="none" stroke="#000" stroke-width="1.7"/>
<line x1="442.80" y1="359.40" x2="444.80" y2="359.40" stroke="#000" stroke-width="1.2" />
<line x1="442.80" y1="374.06" x2="444.80" y2="374.06" stroke="#000" stroke-width="1.2" />
<line x1="442.80" y1="388.72" x2="444.80" y2="388.72" stroke="#000" stroke-width="1.2" />
<line x1="442.80" y1="403.38" x2="444.80" y2="403.38" stroke="#000" stroke-width="1.2" />
<line x1="442.80" y1="418.04" x2="444.80" y2="418.04" stroke="#000" stroke-width="1.2" />
<line x1="442.80" y1="432.70" x2="444.80" y2="432.70" stroke="#000" stroke-width="1.2" />
<text x="273.90" y="270.50" font-size="6.9" text-anchor="end" font-weight="normal" >1500</text>
<text x="273.90" y="285.18" font-size="6.9" text-anchor="end" font-weight="normal" >1200</text>
<text x="273.90" y="299.86" font-size="6.9" text-anchor="end" font-weight="normal" >900</text>
<text x="273.90" y="314.54" font-size="6.9" text-anchor="end" font-weight="normal" >600</text>
<text x="273.90" y="329.22" font-size="6.9" text-anchor="end" font-weight="normal" >300</text>
<text x="273.90" y="343.90" font-size="6.9" text-anchor="end" font-weight="normal" >0</text>
<text x="275.80" y="361.90" font-size="6.9" text-anchor="end" font-weight="normal" >1500</text>
<text x="275.80" y="376.56" font-size="6.9" text-anchor="end" font-weight="normal" >1200</text>
<text x="275.80" y="391.22" font-size="6.9" text-anchor="end" font-weight="normal" >900</text>
<text x="275.80" y="405.88" font-size="6.9" text-anchor="end" font-weight="normal" >600</text>
<text x="275.80" y="420.54" font-size="6.9" text-anchor="end" font-weight="normal" >300</text>
<text x="275.80" y="435.20" font-size="6.9" text-anchor="end" font-weight="normal" >0</text>
<text x="321.50" y="263.60" font-size="10.4" text-anchor="middle" font-weight="normal" >IgM (U/mL)</text>
<text x="396.90" y="263.60" font-size="10.4" text-anchor="middle" font-weight="normal" >IgG1 (U/mL)</text>
<text x="486.20" y="263.60" font-size="10.2" text-anchor="middle" font-weight="normal" >IgG2a (U/mL)</text>
<line x1="435.70" y1="418.00" x2="444.80" y2="418.00" stroke="#000" stroke-width="0.8" />
<circle cx="327.10" cy="307.90" r="2.2" fill="#fff" stroke="#000" stroke-width="1.35"/>
<circle cx="327.10" cy="321.80" r="2.2" fill="#fff" stroke="#000" stroke-width="1.35"/>
<circle cx="325.90" cy="329.30" r="2.2" fill="#fff" stroke="#000" stroke-width="1.35"/>
<circle cx="328.30" cy="332.50" r="2.2" fill="#fff" stroke="#000" stroke-width="1.35"/>
<circle cx="326.80" cy="335.50" r="2.2" fill="#fff" stroke="#000" stroke-width="1.35"/>
<circle cx="327.10" cy="340.20" r="2.2" fill="#fff" stroke="#000" stroke-width="1.35"/>
<circle cx="302.80" cy="291.80" r="2.9" fill="#000"/>
<circle cx="302.80" cy="298.90" r="2.9" fill="#000"/>
<circle cx="303.30" cy="312.30" r="2.9" fill="#000"/>
<circle cx="301.80" cy="315.00" r="2.9" fill="#000"/>
<circle cx="303.80" cy="317.60" r="2.9" fill="#000"/>
<circle cx="303.30" cy="320.40" r="2.9" fill="#000"/>
<circle cx="302.30" cy="323.90" r="2.9" fill="#000"/>
<circle cx="302.80" cy="328.40" r="2.9" fill="#000"/>
<circle cx="302.80" cy="332.90" r="2.9" fill="#000"/>
<line x1="295.50" y1="315.40" x2="310.70" y2="315.40" stroke="#000" stroke-width="1.4" />
<line x1="320.50" y1="329.30" x2="334.80" y2="329.30" stroke="#000" stroke-width="1.4" />
<line x1="305.00" y1="285.30" x2="331.30" y2="285.30" stroke="#000" stroke-width="1.3" />
<text x="318.15" y="285.70" font-size="10.5" text-anchor="middle" font-weight="bold" >*</text>
<circle cx="409.10" cy="308.50" r="2.2" fill="#fff" stroke="#000" stroke-width="1.35"/>
<circle cx="409.10" cy="314.80" r="2.2" fill="#fff" stroke="#000" stroke-width="1.35"/>
<circle cx="409.10" cy="324.20" r="2.2" fill="#fff" stroke="#000" stroke-width="1.35"/>
<circle cx="409.10" cy="333.70" r="2.2" fill="#fff" stroke="#000" stroke-width="1.35"/>
<circle cx="407.80" cy="337.00" r="2.2" fill="#fff" stroke="#000" stroke-width="1.35"/>
<circle cx="410.40" cy="337.00" r="2.2" fill="#fff" stroke="#000" stroke-width="1.35"/>
<circle cx="409.10" cy="338.30" r="2.2" fill="#fff" stroke="#000" stroke-width="1.35"/>
<circle cx="384.40" cy="291.40" r="2.9" fill="#000"/>
<circle cx="384.40" cy="302.80" r="2.9" fill="#000"/>
<circle cx="384.40" cy="305.60" r="2.9" fill="#000"/>
<circle cx="383.90" cy="308.50" r="2.9" fill="#000"/>
<circle cx="384.90" cy="310.00" r="2.9" fill="#000"/>
<circle cx="384.40" cy="316.10" r="2.9" fill="#000"/>
<circle cx="384.40" cy="318.50" r="2.9" fill="#000"/>
<circle cx="384.40" cy="324.20" r="2.9" fill="#000"/>
<line x1="377.40" y1="311.00" x2="392.60" y2="311.00" stroke="#000" stroke-width="1.4" />
<line x1="401.50" y1="328.40" x2="417.20" y2="328.40" stroke="#000" stroke-width="1.4" />
<line x1="386.90" y1="285.70" x2="412.90" y2="285.70" stroke="#000" stroke-width="1.3" />
<text x="399.90" y="286.10" font-size="10.5" text-anchor="middle" font-weight="bold" >*</text>
<circle cx="491.90" cy="318.50" r="2.2" fill="#fff" stroke="#000" stroke-width="1.35"/>
<circle cx="491.90" cy="322.30" r="2.2" fill="#fff" stroke="#000" stroke-width="1.35"/>
<circle cx="491.90" cy="328.40" r="2.2" fill="#fff" stroke="#000" stroke-width="1.35"/>
<circle cx="491.30" cy="334.10" r="2.2" fill="#fff" stroke="#000" stroke-width="1.35"/>
<circle cx="491.30" cy="338.30" r="2.2" fill="#fff" stroke="#000" stroke-width="1.35"/>
<circle cx="493.50" cy="338.30" r="2.2" fill="#fff" stroke="#000" stroke-width="1.35"/>
<circle cx="467.30" cy="291.40" r="2.9" fill="#000"/>
<circle cx="466.30" cy="299.60" r="2.9" fill="#000"/>
<circle cx="468.60" cy="300.00" r="2.9" fill="#000"/>
<circle cx="467.30" cy="306.00" r="2.9" fill="#000"/>
<circle cx="467.30" cy="326.10" r="2.9" fill="#000"/>
<circle cx="468.10" cy="329.00" r="2.9" fill="#000"/>
<circle cx="466.50" cy="331.30" r="2.9" fill="#000"/>
<circle cx="468.60" cy="334.10" r="2.9" fill="#000"/>
<circle cx="466.50" cy="337.00" r="2.9" fill="#000"/>
<circle cx="467.30" cy="338.00" r="2.9" fill="#000"/>
<line x1="459.70" y1="319.90" x2="475.20" y2="319.90" stroke="#000" stroke-width="1.4" />
<line x1="484.30" y1="331.50" x2="499.90" y2="331.50" stroke="#000" stroke-width="1.4" />
<circle cx="326.30" cy="431.00" r="2.2" fill="#fff" stroke="#000" stroke-width="1.35"/>
<circle cx="328.30" cy="430.60" r="2.2" fill="#fff" stroke="#000" stroke-width="1.35"/>
<circle cx="330.30" cy="431.00" r="2.2" fill="#fff" stroke="#000" stroke-width="1.35"/>
<circle cx="328.30" cy="431.40" r="2.2" fill="#fff" stroke="#000" stroke-width="1.35"/>
<circle cx="303.10" cy="384.20" r="2.9" fill="#000"/>
<circle cx="305.80" cy="382.50" r="2.9" fill="#000"/>
<circle cx="304.60" cy="403.20" r="2.9" fill="#000"/>
<circle cx="304.60" cy="423.30" r="2.9" fill="#000"/>
<circle cx="303.10" cy="430.40" r="2.9" fill="#000"/>
<circle cx="305.80" cy="429.30" r="2.9" fill="#000"/>
<line x1="296.50" y1="409.70" x2="312.60" y2="409.70" stroke="#000" stroke-width="1.4" />
<line x1="321.20" y1="432.00" x2="336.30" y2="432.00" stroke="#000" stroke-width="1.4" />
<line x1="307.20" y1="375.50" x2="332.70" y2="375.50" stroke="#000" stroke-width="1.3" />
<text x="317.20" y="376.00" font-size="10.5" font-weight="bold" text-anchor="middle">*</text>
<text x="322.70" y="376.00" font-size="10.5" font-weight="bold" text-anchor="middle">*</text>
<circle cx="408.70" cy="431.00" r="2.2" fill="#fff" stroke="#000" stroke-width="1.35"/>
<circle cx="410.20" cy="430.80" r="2.2" fill="#fff" stroke="#000" stroke-width="1.35"/>
<circle cx="411.70" cy="431.00" r="2.2" fill="#fff" stroke="#000" stroke-width="1.35"/>
<circle cx="386.10" cy="383.30" r="2.9" fill="#000"/>
<circle cx="386.10" cy="398.60" r="2.9" fill="#000"/>
<circle cx="386.10" cy="406.50" r="2.9" fill="#000"/>
<circle cx="385.30" cy="410.20" r="2.9" fill="#000"/>
<circle cx="386.90" cy="408.50" r="2.9" fill="#000"/>
<circle cx="386.10" cy="429.90" r="2.9" fill="#000"/>
<line x1="378.90" y1="406.90" x2="394.90" y2="406.90" stroke="#000" stroke-width="1.4" />
<line x1="403.60" y1="432.00" x2="418.30" y2="432.00" stroke="#000" stroke-width="1.4" />
<line x1="386.10" y1="375.20" x2="411.70" y2="375.20" stroke="#000" stroke-width="1.3" />
<text x="396.15" y="375.70" font-size="10.5" font-weight="bold" text-anchor="middle">*</text>
<text x="401.65" y="375.70" font-size="10.5" font-weight="bold" text-anchor="middle">*</text>
<circle cx="492.00" cy="431.00" r="2.2" fill="#fff" stroke="#000" stroke-width="1.35"/>
<circle cx="493.50" cy="430.80" r="2.2" fill="#fff" stroke="#000" stroke-width="1.35"/>
<circle cx="495.00" cy="431.00" r="2.2" fill="#fff" stroke="#000" stroke-width="1.35"/>
<circle cx="469.40" cy="383.30" r="2.9" fill="#000"/>
<circle cx="469.40" cy="403.60" r="2.9" fill="#000"/>
<circle cx="468.40" cy="414.60" r="2.9" fill="#000"/>
<circle cx="470.40" cy="416.10" r="2.9" fill="#000"/>
<circle cx="469.40" cy="422.30" r="2.9" fill="#000"/>
<circle cx="469.40" cy="430.60" r="2.9" fill="#000"/>
<line x1="461.70" y1="412.40" x2="477.70" y2="412.40" stroke="#000" stroke-width="1.4" />
<line x1="486.50" y1="432.00" x2="501.80" y2="432.00" stroke="#000" stroke-width="1.4" />
<line x1="469.40" y1="375.60" x2="495.30" y2="375.60" stroke="#000" stroke-width="1.3" />
<text x="482.35" y="376.00" font-size="10.5" text-anchor="middle" font-weight="bold" >*</text>
<text x="304.00" y="447.20" font-size="8.4" text-anchor="middle" font-weight="bold" fill="#303030">WT</text>
<text x="318.00" y="447.2" font-size="8.3" font-weight="bold" fill="#303030">STAT3<tspan dy="-2.5" font-size="5" font-weight="bold" fill="#b0b0b0">-/-</tspan></text>
<text x="385.00" y="447.20" font-size="8.4" text-anchor="middle" font-weight="bold" fill="#303030">WT</text>
<text x="397.40" y="447.2" font-size="8.3" font-weight="bold" fill="#303030">STAT3<tspan dy="-2.5" font-size="5" font-weight="bold" fill="#b0b0b0">-/-</tspan></text>
<text x="470.50" y="447.20" font-size="8.4" text-anchor="middle" font-weight="bold" fill="#303030">WT</text>
<text x="483.30" y="447.2" font-size="8.3" font-weight="bold" fill="#303030">STAT3<tspan dy="-2.5" font-size="5" font-weight="bold" fill="#b0b0b0">-/-</tspan></text>
</svg>
</body></html>
